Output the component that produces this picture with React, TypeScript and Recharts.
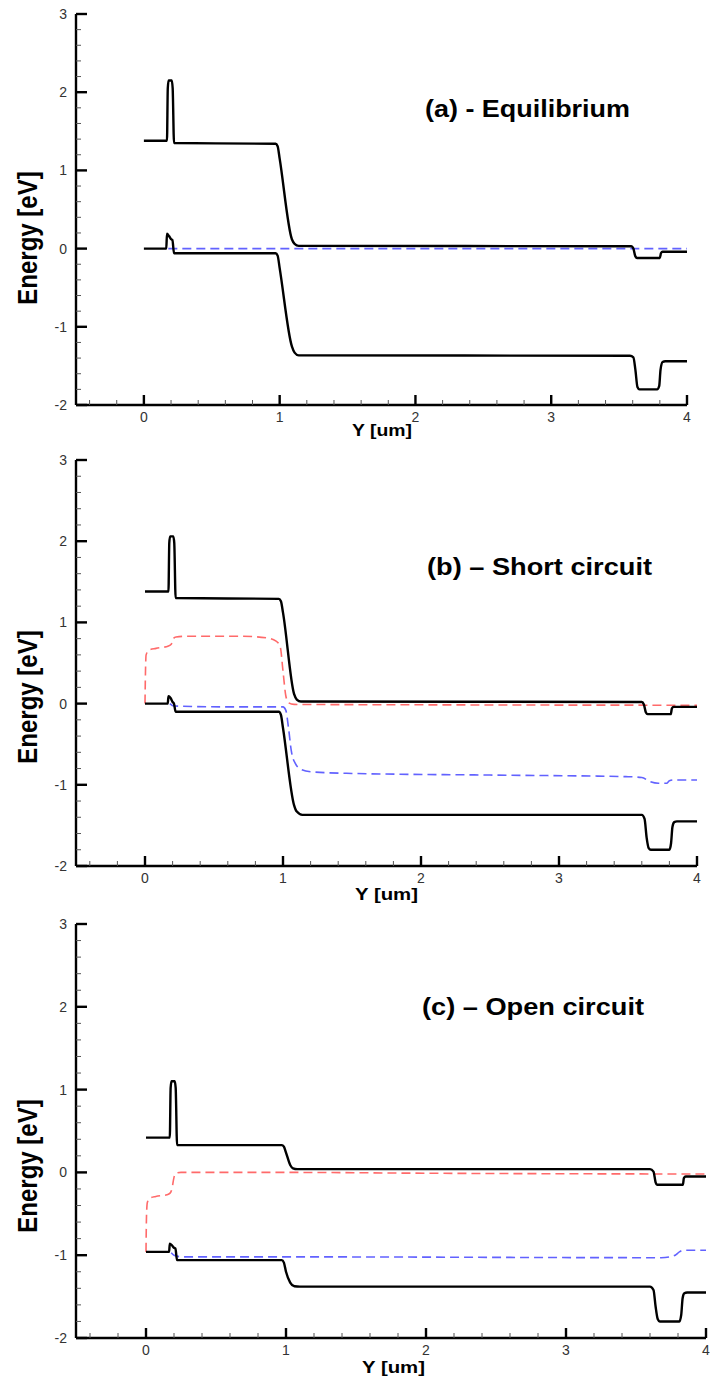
import React from 'react';
import { LineChart, Line, XAxis, YAxis } from 'recharts';

// Band edges along the device, position in um, energy in eV.
// (a) equilibrium
const ecA_pos = [0, 0.17, 0.176, 0.182, 0.205, 0.212, 0.222, 0.97, 0.985, 1.0, 1.09, 1.11, 1.14, 3.59, 3.605, 3.62, 3.632, 3.8, 3.808, 3.82, 4.0];
const ecA = [1.38, 1.38, 2.05, 2.15, 2.15, 2.05, 1.35, 1.34, 1.31, 1.15, 0.12, 0.06, 0.035, 0.03, 0.0, -0.1, -0.12, -0.12, -0.06, -0.04, -0.04];
const evA_pos = [0, 0.165, 0.17, 0.185, 0.2, 0.21, 0.222, 0.97, 0.985, 1.0, 1.09, 1.11, 1.14, 3.58, 3.605, 3.62, 3.635, 3.65, 3.78, 3.795, 3.805, 3.82, 3.84, 4.0];
const evA = [0, 0, 0.19, 0.16, 0.12, 0.11, -0.06, -0.06, -0.09, -0.25, -1.25, -1.33, -1.365, -1.37, -1.39, -1.55, -1.77, -1.8, -1.8, -1.76, -1.55, -1.45, -1.44, -1.44];
const efA_pos = [0.18, 4.0];
const efA = [0, 0];

// (b) short circuit
const ecB_pos = [0, 0.17, 0.176, 0.182, 0.205, 0.212, 0.222, 0.97, 0.985, 1.0, 1.08, 1.1, 1.13, 3.6, 3.615, 3.63, 3.642, 3.81, 3.818, 3.83, 4.0];
const ecB = [1.38, 1.38, 1.98, 2.06, 2.06, 1.98, 1.3, 1.29, 1.26, 1.12, 0.12, 0.05, 0.025, 0.02, -0.01, -0.11, -0.13, -0.13, -0.06, -0.04, -0.04];
const evB_pos = [0, 0.165, 0.17, 0.185, 0.2, 0.21, 0.222, 0.97, 0.985, 1.0, 1.08, 1.1, 1.14, 3.6, 3.62, 3.635, 3.65, 3.665, 3.8, 3.812, 3.822, 3.835, 3.855, 4.0];
const evB = [0, 0, 0.09, 0.07, 0.02, 0.0, -0.1, -0.1, -0.14, -0.3, -1.25, -1.33, -1.37, -1.37, -1.42, -1.65, -1.78, -1.8, -1.8, -1.72, -1.52, -1.46, -1.45, -1.45];
const efnB_pos = [0, 0.003, 0.008, 0.03, 0.08, 0.17, 0.19, 0.205, 0.225, 0.3, 0.7, 0.88, 0.95, 0.98, 1.0, 1.02, 1.04, 1.08, 2.0, 4.0];
const efnB = [0, 0.35, 0.6, 0.66, 0.68, 0.71, 0.73, 0.8, 0.82, 0.83, 0.83, 0.81, 0.77, 0.7, 0.4, 0.1, 0.01, -0.01, -0.015, -0.02];
const efpB_pos = [0.18, 0.21, 0.6, 1.0, 1.02, 1.04, 1.06, 1.09, 1.13, 1.2, 1.5, 2.5, 3.5, 3.6, 3.66, 3.72, 3.78, 3.8, 3.83, 4.0];
const efpB = [0, -0.03, -0.04, -0.04, -0.08, -0.3, -0.58, -0.74, -0.81, -0.84, -0.86, -0.88, -0.9, -0.91, -0.96, -0.98, -0.98, -0.95, -0.94, -0.94];

// (c) open circuit
const ecC_pos = [0, 0.17, 0.176, 0.182, 0.205, 0.212, 0.222, 0.97, 0.985, 1.0, 1.03, 1.05, 1.08, 3.6, 3.625, 3.64, 3.65, 3.835, 3.842, 3.855, 4.0];
const ecC = [0.42, 0.42, 1.02, 1.1, 1.1, 1.02, 0.33, 0.33, 0.31, 0.24, 0.09, 0.05, 0.04, 0.04, 0.01, -0.12, -0.15, -0.15, -0.07, -0.05, -0.05];
const evC_pos = [0, 0.165, 0.17, 0.185, 0.2, 0.21, 0.222, 0.97, 0.985, 1.0, 1.03, 1.06, 1.1, 3.6, 3.625, 3.64, 3.655, 3.67, 3.81, 3.823, 3.833, 3.845, 3.865, 4.0];
const evC = [-0.96, -0.96, -0.86, -0.88, -0.91, -0.92, -1.06, -1.06, -1.09, -1.2, -1.33, -1.375, -1.38, -1.38, -1.42, -1.62, -1.77, -1.8, -1.8, -1.72, -1.52, -1.46, -1.45, -1.45];
const efnC_pos = [0, 0.004, 0.01, 0.03, 0.07, 0.15, 0.172, 0.185, 0.2, 0.215, 0.25, 1.0, 2.0, 4.0];
const efnC = [-0.96, -0.5, -0.36, -0.31, -0.29, -0.27, -0.25, -0.2, -0.06, -0.01, 0.0, 0.0, -0.01, -0.02];
const efpC_pos = [0.18, 0.2, 0.26, 1.0, 3.6, 3.68, 3.74, 3.78, 3.81, 3.84, 4.0];
const efpC = [-0.97, -1.0, -1.02, -1.02, -1.03, -1.03, -1.02, -1.0, -0.96, -0.94, -0.94];

const energyTicks = [-2, -1.8, -1.6, -1.4, -1.2, -1, -0.8, -0.6, -0.4, -0.2, 0, 0.2, 0.4, 0.6, 0.8, 1, 1.2, 1.4, 1.6, 1.8, 2, 2.2, 2.4, 2.6, 2.8, 3];
const posTicks = [-0.4, -0.2, 0, 0.2, 0.4, 0.6, 0.8, 1, 1.2, 1.4, 1.6, 1.8, 2, 2.2, 2.4, 2.6, 2.8, 3, 3.2, 3.4, 3.6, 3.8, 4];

const FONT = 'Arial, "Liberation Sans", Helvetica, sans-serif';
const BLACK = '#000';
const BLUE = '#6262ff';
const RED = '#ff6a6a';

type Pt = { pos: number; e: number };
const toPts = (pos: number[], e: number[]): Pt[] => pos.map((p, i) => ({ pos: p, e: e[i] }));

const isMajor = (v: number) => Math.abs(v - Math.round(v)) < 1e-6;

// ticks point into the plot; only whole numbers carry a label
const EnergyTick = (props: any) => {
  const { x, y, payload } = props;
  const v = payload.value;
  const major = isMajor(v);
  return (
    <g>
      <line x1={x} x2={x + (major ? 11 : 5)} y1={y} y2={y} stroke={major ? BLACK : '#555'} strokeWidth={major ? 2.4 : 1} />
      {major && (
        <text x={x - 9} y={y} textAnchor="end" dominantBaseline="central" fontFamily={FONT} fontSize={14} fill="#333">
          {Math.round(v)}
        </text>
      )}
    </g>
  );
};

const PosTick = (props: any) => {
  const { x, y, payload } = props;
  const v = payload.value;
  const major = isMajor(v);
  return (
    <g>
      <line x1={x} x2={x} y1={y} y2={y - (major ? 10 : 5)} stroke={major ? BLACK : '#555'} strokeWidth={major ? 2.4 : 1} />
      {major && (
        <text x={x} y={y + 12} textAnchor="middle" dominantBaseline="central" fontFamily={FONT} fontSize={14} fill="#333">
          {Math.round(v)}
        </text>
      )}
    </g>
  );
};

type Band = { pts: Pt[]; color: string; dashed?: boolean };

type PanelProps = {
  top: number;
  height: number;
  margin: { top: number; right: number; bottom: number; left: number };
  bands: Band[];
};

const Panel = ({ top, height, margin, bands }: PanelProps) => (
  <div style={{ position: 'absolute', left: 0, top }}>
    <LineChart width={710} height={height} margin={margin}>
      <XAxis
        dataKey="pos"
        type="number"
        domain={[-0.5, 4]}
        ticks={posTicks}
        interval={0}
        allowDataOverflow
        height={30}
        tickSize={0}
        tickMargin={0}
        tickLine={false}
        tick={(p: any) => <PosTick {...p} />}
        axisLine={{ stroke: BLACK, strokeWidth: 2.4 }}
      />
      <YAxis
        type="number"
        domain={[-2, 3]}
        ticks={energyTicks}
        interval={0}
        allowDataOverflow
        width={60}
        tickSize={0}
        tickMargin={0}
        tickLine={false}
        tick={(p: any) => <EnergyTick {...p} />}
        axisLine={{ stroke: BLACK, strokeWidth: 2.4 }}
      />
      {bands.map((b, i) => (
        <Line
          key={i}
          data={b.pts}
          dataKey="e"
          type="monotone"
          stroke={b.color}
          strokeWidth={b.dashed ? 1.6 : 2.4}
          strokeDasharray={b.dashed ? '9 5' : undefined}
          dot={false}
          activeDot={false}
          isAnimationActive={false}
        />
      ))}
    </LineChart>
  </div>
);

const panelA: Band[] = [
  { pts: toPts(efA_pos, efA), color: BLUE, dashed: true },
  { pts: toPts(ecA_pos, ecA), color: BLACK },
  { pts: toPts(evA_pos, evA), color: BLACK },
];

const panelB: Band[] = [
  { pts: toPts(efnB_pos, efnB), color: RED, dashed: true },
  { pts: toPts(efpB_pos, efpB), color: BLUE, dashed: true },
  { pts: toPts(ecB_pos, ecB), color: BLACK },
  { pts: toPts(evB_pos, evB), color: BLACK },
];

const panelC: Band[] = [
  { pts: toPts(efnC_pos, efnC), color: RED, dashed: true },
  { pts: toPts(efpC_pos, efpC), color: BLUE, dashed: true },
  { pts: toPts(ecC_pos, ecC), color: BLACK },
  { pts: toPts(evC_pos, evC), color: BLACK },
];

const EnergyLabel = ({ cy }: { cy: number }) => (
  <text
    transform={`translate(37 ${cy}) scale(1.15 1) rotate(-90)`}
    textAnchor="middle"
    fontFamily={FONT}
    fontSize={24}
    fontWeight="bold"
    fill="#000"
  >
    Energy [eV]
  </text>
);

const PosLabel = ({ x, y, len }: { x: number; y: number; len: number }) => (
  <text x={x} y={y} textLength={len} lengthAdjust="spacingAndGlyphs" fontFamily={FONT} fontSize={17} fontWeight="bold" fill="#000">
    Y [um]
  </text>
);

const Title = ({ x, y, len, children }: { x: number; y: number; len: number; children: string }) => (
  <text x={x} y={y} textLength={len} lengthAdjust="spacingAndGlyphs" fontFamily={FONT} fontSize={24} fontWeight="bold" fill="#000">
    {children}
  </text>
);

export default function App() {
  return (
    <div style={{ position: 'absolute', left: 0, top: 0, width: 710, height: 1378, background: '#fff', overflow: 'hidden' }}>
      <Panel top={0} height={440} margin={{ top: 14, right: 23, bottom: 5, left: 16 }} bands={panelA} />
      <Panel top={440} height={460} margin={{ top: 20, right: 13, bottom: 4, left: 16 }} bands={panelB} />
      <Panel top={900} height={478} margin={{ top: 24, right: 4, bottom: 10, left: 16 }} bands={panelC} />
      <svg width={710} height={1378} style={{ position: 'absolute', left: 0, top: 0, pointerEvents: 'none' }}>
        <Title x={425} y={117} len={205}>(a) - Equilibrium</Title>
        <Title x={427} y={575} len={225}>(b) – Short circuit</Title>
        <Title x={422} y={1015} len={222}>(c) – Open circuit</Title>
        <EnergyLabel cy={238} />
        <EnergyLabel cy={697} />
        <EnergyLabel cy={1166} />
        <PosLabel x={352} y={436} len={60} />
        <PosLabel x={355} y={900} len={63} />
        <PosLabel x={362} y={1373} len={63} />
      </svg>
    </div>
  );
}
